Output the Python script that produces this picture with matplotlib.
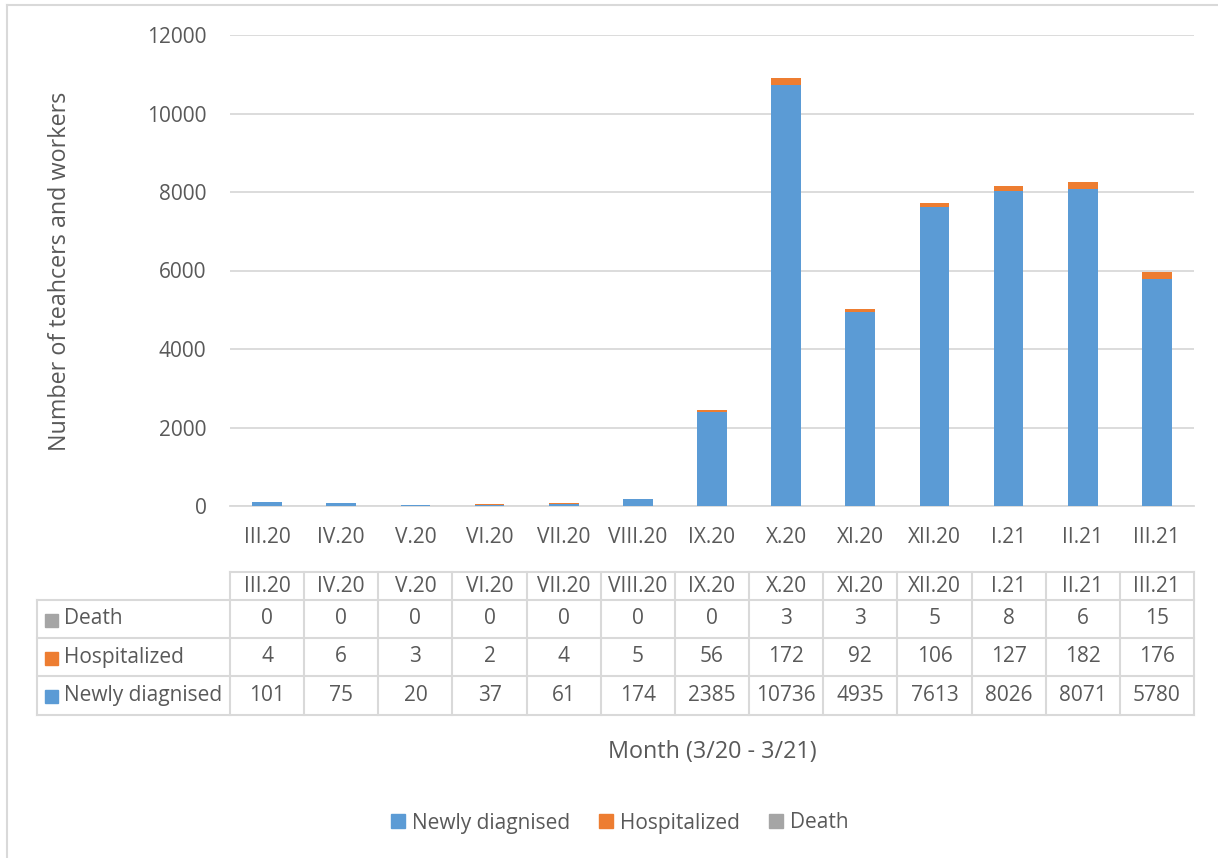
import matplotlib
matplotlib.use("Agg")
import matplotlib.pyplot as plt
from matplotlib.lines import Line2D
from matplotlib.patches import Rectangle

months = ["III.20", "IV.20", "V.20", "VI.20", "VII.20", "VIII.20", "IX.20",
          "X.20", "XI.20", "XII.20", "I.21", "II.21", "III.21"]
newly = [101, 75, 20, 37, 61, 174, 2385, 10736, 4935, 7613, 8026, 8071, 5780]
hospitalized = [4, 6, 3, 2, 4, 5, 56, 172, 92, 106, 127, 182, 176]
death = [0, 0, 0, 0, 0, 0, 0, 3, 3, 5, 8, 6, 15]

series_names = ["Newly diagnised", "Hospitalized", "Death"]
colors = ["#5B9BD5", "#ED7D31", "#A5A5A5"]
TXT = "#595959"
GRID = "#D9D9D9"
FONT = ["Open Sans", "DejaVu Sans"]
FS = 15
FS_TITLE = 16.8

plt.rcParams['font.family'] = FONT
plt.rcParams['text.color'] = TXT

W, H = 1218, 858
fig = plt.figure(figsize=(W / 100, H / 100), dpi=100)

def fx(px):
    return px / W

def fy(py):
    return 1 - py / H

# chart area border (left/top visible)
fig.add_artist(Line2D([fx(7), fx(7)], [fy(5), fy(858)], color=GRID, lw=1.5))
fig.add_artist(Line2D([fx(7), fx(1218)], [fy(5), fy(5)], color=GRID, lw=1.5))

L, R, T, B = 230, 1194, 35, 506
ax = fig.add_axes([fx(L), fy(B), (R - L) / W, (B - T) / H])
x = list(range(len(months)))
bw = 0.4
ax.bar(x, newly, bw, color=colors[0], zorder=3)
bot2 = [a for a in newly]
ax.bar(x, hospitalized, bw, bottom=bot2, color=colors[1], zorder=3)
bot3 = [a + b for a, b in zip(newly, hospitalized)]
ax.bar(x, death, bw, bottom=bot3, color=colors[2], zorder=3)

ax.set_xlim(-0.5, len(months) - 0.5)
ax.set_ylim(0, 12000)
ax.set_yticks(range(0, 12001, 2000))
ax.yaxis.grid(True, color=GRID, lw=1.3, zorder=0)
for s in ["top", "right", "left"]:
    ax.spines[s].set_visible(False)
ax.spines["bottom"].set_color(GRID)
ax.spines["bottom"].set_linewidth(1.3)
ax.set_xticks(x)
ax.set_xticklabels(months)
ax.tick_params(axis="both", length=0, labelsize=FS, labelcolor=TXT)
ax.tick_params(axis="x", pad=15)
ax.tick_params(axis="y", pad=17)

fig.text(fx(60), fy(271), "Number of teahcers and workers", rotation=90,
         ha="center", va="center", fontsize=FS_TITLE, color=TXT)

# data table
tT, tB = 572, 715
tax = fig.add_axes([fx(L), fy(tB), (R - L) / W, (tB - tT) / H])
tax.set_xlim(-0.5, len(months) - 0.5)
tax.set_ylim(tB, tT)
tax.axis("off")
cw = (R - L) / len(months)
lab_left = -0.5 - (L - 37) / cw
rows_y = [572, 600, 638, 676, 715]
lw = 1.5
tax.plot([-0.5, 12.5], [rows_y[0]] * 2, color=GRID, lw=lw, clip_on=False)
for yy in rows_y[1:]:
    tax.plot([lab_left, 12.5], [yy] * 2, color=GRID, lw=lw, clip_on=False)
for i in range(len(months) + 1):
    tax.plot([i - 0.5] * 2, [rows_y[0], rows_y[-1]], color=GRID, lw=lw, clip_on=False)
tax.plot([lab_left] * 2, [rows_y[1], rows_y[-1]], color=GRID, lw=lw, clip_on=False)

row_data = [death, hospitalized, newly]
row_names = ["Death", "Hospitalized", "Newly diagnised"]
row_colors = [colors[2], colors[1], colors[0]]
for i, m in enumerate(months):
    tax.text(i, (rows_y[0] + rows_y[1]) / 2, m, ha="center", va="center",
             fontsize=FS, color=TXT)
for r, (vals, nm, c) in enumerate(zip(row_data, row_names, row_colors)):
    yc = (rows_y[r + 1] + rows_y[r + 2]) / 2
    for i, v in enumerate(vals):
        tax.text(i, yc, str(v), ha="center", va="center", fontsize=FS, color=TXT)
    sq = 13
    tax.add_patch(Rectangle((lab_left + 8 / cw, yc - sq / 2 + 1), sq / cw, sq,
                            color=c, clip_on=False))
    tax.text(lab_left + 27 / cw, yc, nm, ha="left", va="center", fontsize=FS, color=TXT)

fig.text(fx(712), fy(752), "Month (3/20 - 3/21)", ha="center", va="center",
         fontsize=FS_TITLE, color=TXT)

handles = [Line2D([], [], marker="s", ls="", markersize=10, color=c) for c in colors]
leg = fig.legend(handles, series_names, loc="center", bbox_to_anchor=(fx(619), fy(823)),
                 ncol=3, frameon=False, fontsize=FS, handlelength=0.8,
                 handletextpad=0.3, columnspacing=1.3)
for t in leg.get_texts():
    t.set_color(TXT)

fig.savefig("out.png", dpi=100, facecolor="white")
